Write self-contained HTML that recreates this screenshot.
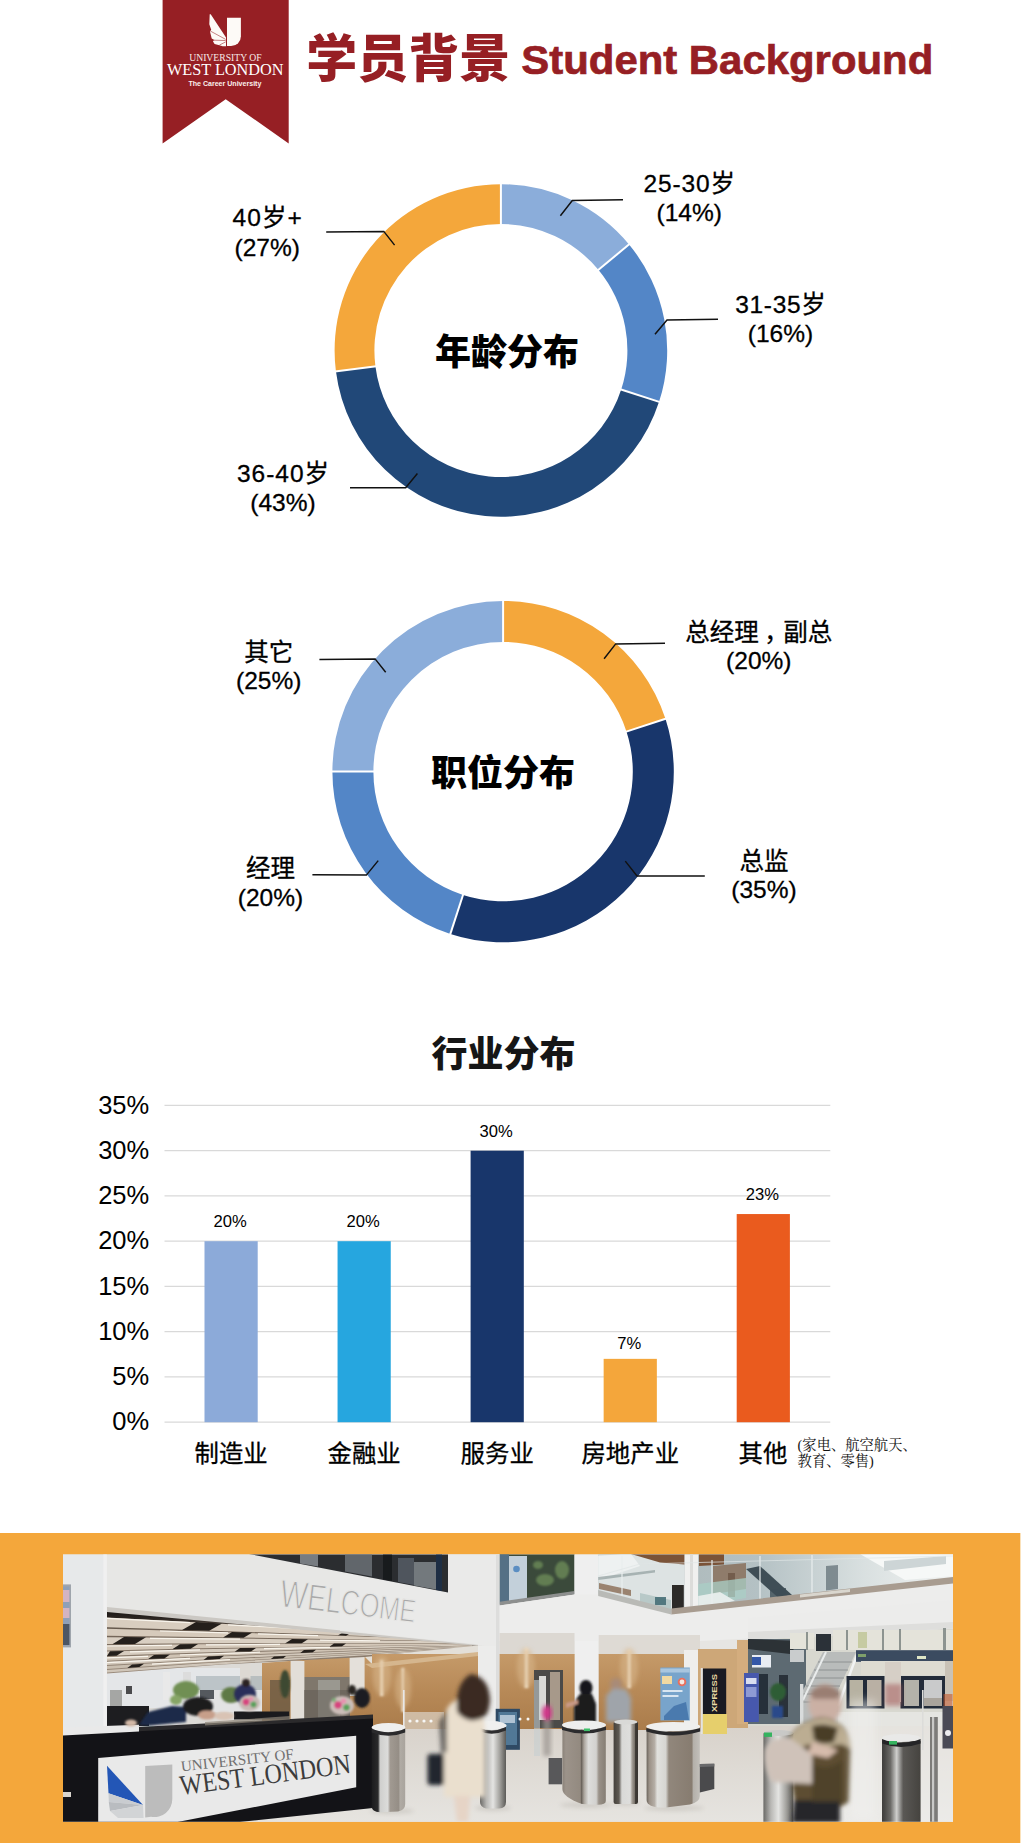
<!DOCTYPE html>
<html lang="zh-CN"><head><meta charset="utf-8"><title>学员背景 Student Background</title>
<style>html,body{margin:0;padding:0;background:#fff}body{width:1021px;height:1843px;overflow:hidden}svg{display:block}text{font-family:'Liberation Sans','Noto Sans CJK SC',sans-serif}</style></head><body>
<svg width="1021" height="1843" viewBox="0 0 1021 1843" fill="#111">
<rect width="1021" height="1843" fill="#fff"/>
<g id="header">
<path d="M162.6 0H288.7V143.4L225.7 99.2L162.6 143.4Z" fill="#961f24"/>
<!-- crest: wing + shield -->
<g fill="#fdfaf7">
<path d="M227 17.8H240.9V36.2A9.8 9.8 0 0 1 231.1 46H227Z"/>
<path d="M209.7 14.2L210.7 14.2L226 37.4V46.3H222.6L219.4 45.3L214.6 44L212.9 41.3L214.4 40.1L211.7 38.4L210 31.6L211.2 29.8L209.3 24.2Z"/>
</g>
<g stroke="#961f24" stroke-width=".55" fill="none"><path d="M210.3 31L225.7 39.4"/><path d="M214 40.2L225.7 40.5"/><path d="M219.4 45.1L225.8 41.8"/></g>
<text x="225.4" y="60.8" font-size="10" text-anchor="middle" textLength="72.4" lengthAdjust="spacingAndGlyphs" style="font-family:'Liberation Serif',serif;fill:#f6e9e6">UNIVERSITY OF</text>
<text x="225.2" y="74.5" font-size="16" text-anchor="middle" textLength="116.6" lengthAdjust="spacingAndGlyphs" style="font-family:'Liberation Serif',serif;fill:#fff">WEST LONDON</text>
<text x="224.9" y="85.8" font-size="7.4" font-weight="bold" text-anchor="middle" textLength="73" lengthAdjust="spacingAndGlyphs" style="fill:#fbefec">The Career University</text>
<!-- title -->
<text x="306.2" y="76.6" font-size="51" font-weight="900" style="fill:#961f24">学员背景</text>
<text x="521.3" y="74" font-size="41" font-weight="bold" textLength="412" lengthAdjust="spacingAndGlyphs" style="fill:#961f24;stroke:#961f24;stroke-width:.7px">Student Background</text>
</g>

<g id="age">
<path d="M500.90 184.15A166.3 166.3 0 0 1 629.04 244.45L598.37 269.82A126.5 126.5 0 0 0 500.90 223.95Z" fill="#8badda"/>
<path d="M629.04 244.45A166.3 166.3 0 0 1 659.06 401.84L621.21 389.54A126.5 126.5 0 0 0 598.37 269.82Z" fill="#5386c7"/>
<path d="M659.06 401.84A166.3 166.3 0 0 1 335.91 371.29L375.40 366.30A126.5 126.5 0 0 0 621.21 389.54Z" fill="#214878"/>
<path d="M335.91 371.29A166.3 166.3 0 0 1 500.90 184.15L500.90 223.95A126.5 126.5 0 0 0 375.40 366.30Z" fill="#f4a73b"/>
<line x1="500.90" y1="224.95" x2="500.90" y2="183.15" stroke="#fff" stroke-width="2"/>
<line x1="597.60" y1="270.45" x2="629.81" y2="243.81" stroke="#fff" stroke-width="2"/>
<line x1="620.26" y1="389.23" x2="660.01" y2="402.15" stroke="#fff" stroke-width="2"/>
<line x1="376.39" y1="366.18" x2="334.92" y2="371.42" stroke="#fff" stroke-width="2"/>
<path d="M560.4 215.8L572.3 200.6L623 199.8" fill="none" stroke="#111" stroke-width="1.5" stroke-linejoin="miter"/>
<path d="M655 334.3L667 319.9L718 319.2" fill="none" stroke="#111" stroke-width="1.5" stroke-linejoin="miter"/>
<path d="M394.6 245.1L383.8 231.4L326.2 232" fill="none" stroke="#111" stroke-width="1.5" stroke-linejoin="miter"/>
<path d="M417.4 473.5L405.7 487.7L350 487.8" fill="none" stroke="#111" stroke-width="1.5" stroke-linejoin="miter"/>
<text x="689.2" y="192.3" font-size="24.5" text-anchor="middle" textLength="91.5" fill="#000" stroke="#000" stroke-width=".3">25-30岁</text><text x="689.2" y="221.1" font-size="24.5" text-anchor="middle" fill="#000" stroke="#000" stroke-width=".3">(14%)</text>
<text x="780.5" y="312.7" font-size="24.5" text-anchor="middle" textLength="90.3" fill="#000" stroke="#000" stroke-width=".3">31-35岁</text><text x="780.5" y="341.8" font-size="24.5" text-anchor="middle" fill="#000" stroke="#000" stroke-width=".3">(16%)</text>
<text x="267.2" y="226.4" font-size="24.5" text-anchor="middle" textLength="69.2" fill="#000" stroke="#000" stroke-width=".3">40岁+</text><text x="267.2" y="255.7" font-size="24.5" text-anchor="middle" fill="#000" stroke="#000" stroke-width=".3">(27%)</text>
<text x="283" y="482" font-size="24.5" text-anchor="middle" textLength="92" fill="#000" stroke="#000" stroke-width=".3">36-40岁</text><text x="283" y="511.1" font-size="24.5" text-anchor="middle" fill="#000" stroke="#000" stroke-width=".3">(43%)</text>
<text x="507" y="365" font-size="36" font-weight="900" text-anchor="middle" fill="#000">年龄分布</text>
</g>
<g id="pos">
<path d="M503.10 600.90A170.7 170.7 0 0 1 665.45 718.85L626.45 731.52A129.7 129.7 0 0 0 503.10 641.90Z" fill="#f4a73b"/>
<path d="M665.45 718.85A170.7 170.7 0 0 1 450.35 933.95L463.02 894.95A129.7 129.7 0 0 0 626.45 731.52Z" fill="#18366b"/>
<path d="M450.35 933.95A170.7 170.7 0 0 1 332.40 771.60L373.40 771.60A129.7 129.7 0 0 0 463.02 894.95Z" fill="#5386c7"/>
<path d="M332.40 771.60A170.7 170.7 0 0 1 503.10 600.90L503.10 641.90A129.7 129.7 0 0 0 373.40 771.60Z" fill="#8badda"/>
<line x1="503.10" y1="642.90" x2="503.10" y2="599.90" stroke="#fff" stroke-width="2"/>
<line x1="625.50" y1="731.83" x2="666.40" y2="718.54" stroke="#fff" stroke-width="2"/>
<line x1="463.33" y1="894.00" x2="450.04" y2="934.90" stroke="#fff" stroke-width="2"/>
<line x1="374.40" y1="771.60" x2="331.40" y2="771.60" stroke="#fff" stroke-width="2"/>
<path d="M604.1 658.7L615.7 643.9L665 643.3" fill="none" stroke="#111" stroke-width="1.5" stroke-linejoin="miter"/>
<path d="M625.3 861.1L637 876L704.8 876" fill="none" stroke="#111" stroke-width="1.5" stroke-linejoin="miter"/>
<path d="M385.7 672.3L375.1 658.9L319.4 659.4" fill="none" stroke="#111" stroke-width="1.5" stroke-linejoin="miter"/>
<path d="M378.2 860.6L366.4 875.1L312.4 874.7" fill="none" stroke="#111" stroke-width="1.5" stroke-linejoin="miter"/>
<text x="758.8" y="640.5" font-size="24.5" text-anchor="middle" fill="#000" stroke="#000" stroke-width=".3">总经理<tspan dx="5.5">，</tspan><tspan dx="-5.5">副总</tspan></text><text x="758.8" y="668.6" font-size="24.5" text-anchor="middle" fill="#000" stroke="#000" stroke-width=".3">(20%)</text>
<text x="764" y="869.5" font-size="24.5" text-anchor="middle" fill="#000" stroke="#000" stroke-width=".3">总监</text><text x="764" y="898.2" font-size="24.5" text-anchor="middle" fill="#000" stroke="#000" stroke-width=".3">(35%)</text>
<text x="268.7" y="660.5" font-size="24.5" text-anchor="middle" fill="#000" stroke="#000" stroke-width=".3">其它</text><text x="268.7" y="688.7" font-size="24.5" text-anchor="middle" fill="#000" stroke="#000" stroke-width=".3">(25%)</text>
<text x="270.5" y="876.5" font-size="24.5" text-anchor="middle" fill="#000" stroke="#000" stroke-width=".3">经理</text><text x="270.5" y="905.7" font-size="24.5" text-anchor="middle" fill="#000" stroke="#000" stroke-width=".3">(20%)</text>
<text x="503" y="786" font-size="36" font-weight="900" text-anchor="middle" fill="#000">职位分布</text>
</g>
<g id="industry">
<text x="503.5" y="1067" font-size="36" font-weight="900" text-anchor="middle" fill="#161616">行业分布</text>
<line x1="164.5" x2="830.3" y1="1422.20" y2="1422.20" stroke="#d9d9d9" stroke-width="1.3"/>
<text x="149.2" y="1430.40" font-size="25.5" text-anchor="end" fill="#000">0%</text>
<line x1="164.5" x2="830.3" y1="1376.95" y2="1376.95" stroke="#d9d9d9" stroke-width="1.3"/>
<text x="149.2" y="1385.15" font-size="25.5" text-anchor="end" fill="#000">5%</text>
<line x1="164.5" x2="830.3" y1="1331.70" y2="1331.70" stroke="#d9d9d9" stroke-width="1.3"/>
<text x="149.2" y="1339.90" font-size="25.5" text-anchor="end" fill="#000">10%</text>
<line x1="164.5" x2="830.3" y1="1286.45" y2="1286.45" stroke="#d9d9d9" stroke-width="1.3"/>
<text x="149.2" y="1294.65" font-size="25.5" text-anchor="end" fill="#000">15%</text>
<line x1="164.5" x2="830.3" y1="1241.20" y2="1241.20" stroke="#d9d9d9" stroke-width="1.3"/>
<text x="149.2" y="1249.40" font-size="25.5" text-anchor="end" fill="#000">20%</text>
<line x1="164.5" x2="830.3" y1="1195.95" y2="1195.95" stroke="#d9d9d9" stroke-width="1.3"/>
<text x="149.2" y="1204.15" font-size="25.5" text-anchor="end" fill="#000">25%</text>
<line x1="164.5" x2="830.3" y1="1150.70" y2="1150.70" stroke="#d9d9d9" stroke-width="1.3"/>
<text x="149.2" y="1158.90" font-size="25.5" text-anchor="end" fill="#000">30%</text>
<line x1="164.5" x2="830.3" y1="1105.45" y2="1105.45" stroke="#d9d9d9" stroke-width="1.3"/>
<text x="149.2" y="1113.65" font-size="25.5" text-anchor="end" fill="#000">35%</text>
<rect x="204.50" y="1241.20" width="53.2" height="181.00" fill="#8caad9"/>
<text x="230.10" y="1227.30" font-size="16.6" text-anchor="middle" fill="#000">20%</text>
<text x="231.10" y="1462.4" font-size="24.4" text-anchor="middle" fill="#000" stroke="#000" stroke-width=".3">制造业</text>
<rect x="337.55" y="1241.20" width="53.2" height="181.00" fill="#26a6df"/>
<text x="363.15" y="1227.30" font-size="16.6" text-anchor="middle" fill="#000">20%</text>
<text x="364.15" y="1462.4" font-size="24.4" text-anchor="middle" fill="#000" stroke="#000" stroke-width=".3">金融业</text>
<rect x="470.60" y="1150.70" width="53.2" height="271.50" fill="#18366b"/>
<text x="496.20" y="1136.80" font-size="16.6" text-anchor="middle" fill="#000">30%</text>
<text x="497.20" y="1462.4" font-size="24.4" text-anchor="middle" fill="#000" stroke="#000" stroke-width=".3">服务业</text>
<rect x="603.65" y="1358.85" width="53.2" height="63.35" fill="#f4a63b"/>
<text x="629.25" y="1348.65" font-size="16.6" text-anchor="middle" fill="#000">7%</text>
<text x="630.25" y="1462.4" font-size="24.4" text-anchor="middle" fill="#000" stroke="#000" stroke-width=".3">房地产业</text>
<rect x="736.70" y="1214.05" width="53.2" height="208.15" fill="#ea5b1e"/>
<text x="762.30" y="1200.15" font-size="16.6" text-anchor="middle" fill="#000">23%</text>
<text x="763.00" y="1462.4" font-size="24.4" text-anchor="middle" fill="#000" stroke="#000" stroke-width=".3">其他</text>
<text x="797.6" y="1449.6" font-size="14.3" style="font-family:'Liberation Serif','Noto Serif CJK SC',serif">(家电、航空航天、</text>
<text x="797.6" y="1466.4" font-size="14.3" style="font-family:'Liberation Serif','Noto Serif CJK SC',serif">教育、零售)</text>
</g>
<g id="footer">
<rect x="0" y="1533" width="1020" height="310" fill="#f4a73b"/><rect x="1020" y="1533" width="1" height="310" fill="#fbe2bb"/>
<defs>
<clipPath id="pc"><rect x="63" y="1554.5" width="890" height="267.3"/></clipPath>
<filter id="b1" x="-20%" y="-20%" width="140%" height="140%"><feGaussianBlur stdDeviation="1"/></filter>
<filter id="b2" x="-20%" y="-20%" width="140%" height="140%"><feGaussianBlur stdDeviation="2.2"/></filter>
<filter id="b4" x="-30%" y="-30%" width="160%" height="160%"><feGaussianBlur stdDeviation="4"/></filter>
<linearGradient id="steelA" x1="0" x2="1" y1="0" y2="0">
<stop offset="0" stop-color="#1c1c1e"/><stop offset=".19" stop-color="#2a2a2b"/><stop offset=".25" stop-color="#cfcfcd"/><stop offset=".48" stop-color="#dcdcda"/>
<stop offset=".55" stop-color="#a19a92"/><stop offset=".8" stop-color="#958e86"/><stop offset=".85" stop-color="#b0aba4"/><stop offset="1" stop-color="#a9a49d"/>
</linearGradient>
<linearGradient id="steelB" x1="0" x2="1" y1="0" y2="0">
<stop offset="0" stop-color="#6a6966"/><stop offset=".25" stop-color="#b9b8b5"/><stop offset=".5" stop-color="#e4e4e2"/>
<stop offset=".75" stop-color="#a5a4a0"/><stop offset="1" stop-color="#5b5a57"/>
</linearGradient>
<linearGradient id="steelC" x1="0" x2="1" y1="0" y2="0">
<stop offset="0" stop-color="#8b8a86"/><stop offset=".3" stop-color="#dededc"/><stop offset=".5" stop-color="#a9a8a4"/>
<stop offset=".78" stop-color="#7f7e7a"/><stop offset=".9" stop-color="#8f8e8a"/><stop offset="1" stop-color="#c2c1be"/>
</linearGradient>
<linearGradient id="steelD" x1="0" x2="1" y1="0" y2="0">
<stop offset="0" stop-color="#3a3937"/><stop offset=".22" stop-color="#6b6a67"/><stop offset=".38" stop-color="#cfcfcd"/>
<stop offset=".55" stop-color="#5a5855"/><stop offset="1" stop-color="#45433f"/>
</linearGradient>
<linearGradient id="wood" x1="0" x2="0" y1="0" y2="1">
<stop offset="0" stop-color="#c59a69"/><stop offset=".5" stop-color="#b78957"/><stop offset="1" stop-color="#aa7c4b"/>
</linearGradient>
<linearGradient id="floor" x1="0" x2="0" y1="0" y2="1">
<stop offset="0" stop-color="#d6cfc7"/><stop offset=".5" stop-color="#deDAD4"/><stop offset="1" stop-color="#e6e4e0"/>
</linearGradient>
<linearGradient id="glass" x1="0" x2="1" y1="0" y2="0">
<stop offset="0" stop-color="#a9b4b4"/><stop offset=".45" stop-color="#b4c1c4"/><stop offset=".75" stop-color="#d9e0e0"/><stop offset="1" stop-color="#f1f3f2"/>
</linearGradient>
<linearGradient id="steelT3" x1="0" x2="1" y1="0" y2="0">
<stop offset="0" stop-color="#8a8279"/><stop offset=".08" stop-color="#9c938a"/><stop offset=".41" stop-color="#938a80"/><stop offset=".44" stop-color="#6b645c"/><stop offset=".5" stop-color="#aaa49c"/>
<stop offset=".6" stop-color="#dddddb"/><stop offset=".78" stop-color="#d2d1ce"/><stop offset=".84" stop-color="#999188"/><stop offset="1" stop-color="#867e74"/>
</linearGradient>
<linearGradient id="steelTC" x1="0" x2="1" y1="0" y2="0">
<stop offset="0" stop-color="#6a635b"/><stop offset=".05" stop-color="#9a9086"/><stop offset=".15" stop-color="#b5aea6"/><stop offset=".2" stop-color="#e1e1de"/><stop offset=".36" stop-color="#d6d5d1"/>
<stop offset=".42" stop-color="#91877c"/><stop offset=".85" stop-color="#877c70"/><stop offset=".88" stop-color="#b4b0aa"/><stop offset="1" stop-color="#c2bfba"/>
</linearGradient>
<linearGradient id="steelP" x1="0" x2="1" y1="0" y2="0">
<stop offset="0" stop-color="#45413b"/><stop offset=".22" stop-color="#5f5a53"/><stop offset=".34" stop-color="#d9d9d7"/><stop offset=".68" stop-color="#dededc"/>
<stop offset=".76" stop-color="#a39d95"/><stop offset=".86" stop-color="#7a746c"/><stop offset=".9" stop-color="#3c3833"/><stop offset="1" stop-color="#3a3632"/>
</linearGradient>
</defs>
<g id="photo" clip-path="url(#pc)">
<rect x="63" y="1554" width="890" height="268" fill="#e6e5e2"/>
<!-- floor -->
<rect x="63" y="1712" width="890" height="110" fill="url(#floor)"/>
<!-- ===== left: back office under ceiling ===== -->
<rect x="107" y="1640" width="265" height="92" fill="#dcdad6"/>
<rect x="107" y="1668" width="135" height="40" fill="#e4e6e8"/>
<rect x="196" y="1676" width="90" height="14" fill="#9aa7ad" opacity=".55"/>
<rect x="200" y="1690" width="88" height="22" fill="#e3e3e3"/>
<!-- wood wall behind desk (right part of left area) -->
<path d="M262 1663L372 1655V1722H262Z" fill="url(#wood)"/>
<rect x="304" y="1677" width="46" height="45" fill="#7f776c"/>
<rect x="318" y="1680" width="22" height="40" fill="#9a9890"/>
<rect x="270" y="1680" width="20" height="40" fill="#6b5a44" opacity=".8"/>
<!-- columns -->
<rect x="240" y="1664" width="10.5" height="27" fill="#ddd9d3"/>
<rect x="290.6" y="1661" width="13.8" height="60" fill="#e2ded8"/>
<rect x="349.6" y="1656" width="15" height="40" fill="#e4e0da"/>
<rect x="163" y="1672" width="7" height="28" fill="#e9e9e9"/>
<rect x="183" y="1672" width="8" height="30" fill="#dcdcdc"/>
<!-- plants -->
<g filter="url(#b1)">
<ellipse cx="186" cy="1690" rx="13" ry="9" fill="#6f8f52"/>
<ellipse cx="231" cy="1695" rx="10" ry="8" fill="#5f7a44"/>
<ellipse cx="176" cy="1700" rx="6" ry="5" fill="#86a566"/>
<ellipse cx="285" cy="1684" rx="5" ry="14" fill="#3e4a30"/>
</g>
<!-- dark furniture / monitors in the back -->
<rect x="107" y="1706" width="42" height="20" fill="#1d1d20"/>
<rect x="126" y="1686" width="6" height="8" fill="#4a4a4c"/>
<rect x="200" y="1690" width="14" height="9" fill="#55595e"/>
<rect x="110" y="1690" width="12" height="16" fill="#8a8a88" opacity=".7"/>
<rect x="234" y="1711.5" width="55" height="8" fill="#1a1a1d"/>
<g filter="url(#b1)"><ellipse cx="245" cy="1694" rx="11" ry="10" fill="#2a2f5a"/><ellipse cx="246" cy="1683" rx="4" ry="4" fill="#2a2420"/></g>
<rect x="304" y="1690" width="46" height="32" fill="#5d574f" opacity=".5"/>
<!-- ===== ceiling ===== -->
<linearGradient id="ceilg" x1="0" x2="0" y1="1612" y2="1672" gradientUnits="userSpaceOnUse"><stop offset="0" stop-color="#1d1916"/><stop offset=".1" stop-color="#2a2420"/><stop offset=".3" stop-color="#6e6053"/><stop offset="1" stop-color="#9a8b7c"/></linearGradient>
<path d="M107 1608L478 1644.6V1649L365 1657L222 1664.5L107 1673.5Z" fill="url(#ceilg)"/>
<path d="M107.0 1617.5L200.0 1622.6L300.0 1628.2L400.0 1633.9L472.0 1637.9L472.0 1639.8L400.0 1637.3L300.0 1633.7L200.0 1630.2L107.0 1627.2Z" fill="#d8cdbf"/>
<path d="M196.0 1622.1L222.0 1623.5L209.2 1630.8L182.1 1630.0Z" fill="#241f1b"/>
<path d="M346.0 1630.5L354.0 1631.0L346.1 1635.7L337.8 1635.4Z" fill="#241f1b"/>
<path d="M107.0 1628.7L200.0 1631.4L300.0 1634.6L400.0 1637.8L472.0 1640.1L472.0 1641.5L400.0 1640.3L300.0 1638.5L200.0 1636.9L107.0 1635.7Z" fill="#d6cabb"/>
<path d="M232.0 1632.1L252.0 1632.7L243.6 1637.8L223.1 1637.5Z" fill="#241f1b"/>
<path d="M107.0 1637.3L200.0 1638.1L300.0 1639.4L400.0 1640.8L472.0 1641.8L472.0 1643.1L400.0 1643.1L300.0 1643.2L200.0 1643.3L107.0 1644.0Z" fill="#d9cfc2"/>
<path d="M124.0 1637.1L146.0 1637.3L135.0 1644.1L112.4 1644.2Z" fill="#241f1b"/>
<path d="M292.0 1639.0L308.0 1639.2L301.4 1643.5L285.0 1643.5Z" fill="#241f1b"/>
<path d="M107.0 1645.2L200.0 1644.3L300.0 1643.8L400.0 1643.6L472.0 1643.4L472.0 1644.4L400.0 1645.4L300.0 1646.8L200.0 1648.3L107.0 1650.4Z" fill="#d3c7b8"/>
<path d="M180.0 1644.2L198.0 1644.0L190.7 1648.8L172.3 1649.2Z" fill="#241f1b"/>
<path d="M334.0 1643.4L346.0 1643.4L341.7 1646.5L329.4 1646.7Z" fill="#241f1b"/>
<path d="M107.0 1651.6L200.0 1649.3L300.0 1647.4L400.0 1645.8L472.0 1644.6L472.0 1645.5L400.0 1647.3L300.0 1649.8L200.0 1652.6L107.0 1655.8Z" fill="#d6ccbf"/>
<path d="M110.0 1651.2L124.0 1650.9L116.6 1655.8L107.0 1656.1Z" fill="#241f1b"/>
<path d="M240.0 1648.1L256.0 1647.9L251.0 1651.4L234.7 1651.8Z" fill="#241f1b"/>
<path d="M107.0 1657.1L200.0 1653.6L300.0 1650.5L400.0 1647.7L472.0 1645.7L472.0 1646.4L400.0 1649.0L300.0 1652.6L200.0 1656.4L107.0 1660.7Z" fill="#cfc3b4"/>
<path d="M154.0 1655.0L170.0 1654.4L164.4 1658.4L148.1 1659.1Z" fill="#241f1b"/>
<path d="M304.0 1650.1L316.0 1649.8L312.5 1652.4L300.3 1652.9Z" fill="#241f1b"/>
<path d="M107.0 1661.8L200.0 1657.2L300.0 1653.2L400.0 1649.4L472.0 1646.6L472.0 1647.3L400.0 1650.5L300.0 1655.0L200.0 1659.8L107.0 1665.0Z" fill="#d2c8bb"/>
<path d="M208.0 1656.5L224.0 1655.8L219.7 1659.0L203.5 1659.9Z" fill="#241f1b"/>
<path d="M107.0 1666.1L200.0 1660.6L300.0 1655.6L400.0 1650.9L472.0 1647.5L472.0 1648.0L400.0 1651.9L300.0 1657.2L200.0 1662.8L107.0 1668.9Z" fill="#cabfb0"/>
<path d="M132.0 1664.4L144.0 1663.7L139.4 1667.1L127.3 1667.9Z" fill="#241f1b"/>
<path d="M274.0 1656.6L286.0 1656.0L283.0 1658.4L270.9 1659.1Z" fill="#241f1b"/>
<path d="M107.0 1669.9L200.0 1663.5L300.0 1657.7L400.0 1652.2L472.0 1648.2L472.0 1648.8L400.0 1653.2L300.0 1659.3L200.0 1665.7L107.0 1672.6Z" fill="#d0c6b9"/>
<path d="M107 1618.3L190 1622.7" stroke="#f8f4ec" stroke-width="1.2"/>
<path d="M228 1624.8L300 1628.7" stroke="#f8f4ec" stroke-width="1.2"/>
<path d="M160 1631.0L228 1632.9" stroke="#f8f4ec" stroke-width="1.2"/>
<path d="M258 1633.8L318 1635.6" stroke="#f8f4ec" stroke-width="1.2"/>
<path d="M150 1638.4L240 1639.1" stroke="#f8f4ec" stroke-width="1.2"/>
<path d="M206 1644.9L280 1644.4" stroke="#f8f4ec" stroke-width="1.2"/>
<path d="M107 1646.0L172 1645.3" stroke="#f8f4ec" stroke-width="1.2"/>
<path d="M130 1651.8L200 1649.9" stroke="#f8f4ec" stroke-width="1.2"/>
<path d="M264 1648.6L330 1647.4" stroke="#f8f4ec" stroke-width="1.2"/>
<path d="M107 1657.9L148 1656.3" stroke="#f8f4ec" stroke-width="1.2"/>
<path d="M180 1655.0L260 1652.2" stroke="#f8f4ec" stroke-width="1.2"/>
<path d="M107 1662.6L190 1658.4" stroke="#f8f4ec" stroke-width="1.2"/>
<path d="M152 1664.2L230 1659.6" stroke="#f8f4ec" stroke-width="1.2"/>
<path d="M320 1640.1L380 1640.8" stroke="#f8f4ec" stroke-width="1.2"/>
<path d="M360 1632.0L420 1635.3" stroke="#f8f4ec" stroke-width="1.2"/>

<!-- soffit strip between ceiling and wood wall -->
<path d="M365 1657L478 1645.5V1652L372 1664Z" fill="#e3dfd8"/>
<!-- ===== white walls ===== -->
<rect x="63" y="1554" width="44" height="176" fill="#e7e9ea"/>
<rect x="103.4" y="1554" width="3.4" height="176" fill="#f0f0f0"/>
<path d="M107 1554H500V1648L478 1645L107 1607.8Z" fill="#e7e7e5"/>
<path d="M107 1607L478 1644.2V1646L107 1612Z" fill="#cbc8c3"/>
<path d="M340 1554H500V1648L478 1645L340 1631Z" fill="#ebebea" opacity=".8"/>
<!-- TV on left pillar -->
<rect x="63" y="1584.4" width="8" height="63" fill="#9fa5ac"/>
<rect x="63" y="1586.5" width="6.4" height="59" fill="#8fa0b8"/><rect x="63" y="1624" width="6.4" height="21" fill="#4c5664"/>
<rect x="63" y="1590" width="6.4" height="12" fill="#d3b4c2"/><rect x="63" y="1608" width="6.4" height="10" fill="#d3b4c2"/>
<!-- dark window (top, left) -->
<path d="M249 1554H448V1592.6Z" fill="#2b2d30"/>
<g opacity=".8">
<path d="M300 1554H318V1566.5L300 1563.5Z" fill="#8b9096"/>
<path d="M345 1554H372V1576.6L345 1571.6Z" fill="#70757b"/>
<path d="M383 1554H392V1581L383 1579.6Z" fill="#15171a"/>
<path d="M398 1558H414V1585L398 1582Z" fill="#596069"/>
<path d="M414 1562H436V1589.5L414 1585.5Z" fill="#868d92"/>
<path d="M436 1554H442V1591L436 1590Z" fill="#1c2f4a"/>
</g>
<!-- WELCOME -->
<text transform="translate(278.8 1606.3) rotate(6.8)" font-size="39" textLength="136.5" lengthAdjust="spacingAndGlyphs" fill="#a9a9a9" stroke="#e7e7e5" stroke-width="1.1" paint-order="fill stroke">W<tspan font-size="37.5">E</tspan><tspan font-size="36">L</tspan><tspan font-size="35">C</tspan><tspan font-size="34">O</tspan><tspan font-size="33">M</tspan><tspan font-size="32">E</tspan></text>
<!-- ===== centre wall, second window ===== -->
<path d="M499.6 1554H574.5V1594L499.6 1604.6Z" fill="#3b4a3b"/>
<path d="M499.6 1554H509V1603L499.6 1604.6Z" fill="#557085"/>
<path d="M509 1556H527V1600.5L509 1603Z" fill="#c3d0da"/>
<circle cx="516.5" cy="1569" r="3.3" fill="#5b8ec2"/>
<g fill="#6f8f5a" opacity=".75" filter="url(#b1)"><ellipse cx="545" cy="1580" rx="9" ry="6"/><ellipse cx="562" cy="1570" rx="7" ry="9"/><ellipse cx="538" cy="1565" rx="5" ry="4"/></g>
<path d="M499.6 1601.8L574.5 1591V1594.6L499.6 1605.4Z" fill="#8d8f8e"/>
<rect x="574.5" y="1554" width="24.2" height="172" fill="#efefef"/>
<rect x="478" y="1646" width="22" height="76" fill="#ececeb"/>
<rect x="496" y="1554" width="3.6" height="168" fill="#dddddc"/>
<!-- white wall right of window / under balcony -->
<path d="M499.6 1605.4L574.5 1594.6H640L672 1613L953 1582V1628L700 1641H499.6Z" fill="#ededec"/>
<!-- ===== balcony glass ===== -->
<path d="M598.2 1554H953V1580L671.3 1611.6L598.2 1594.2Z" fill="url(#glass)"/>
<path d="M598.2 1554H684.6V1608.5L671.3 1612.7L598.2 1594.2Z" fill="#dde3e3"/>
<path d="M598.2 1556L622 1554H631L640 1566L598.2 1580Z" fill="#eef1f1"/>
<path d="M631 1554H684.6V1564.4L660 1562.5Z" fill="#7a5338"/>
<path d="M599 1583L631 1590V1596L599 1589Z" fill="#8a6a52" opacity=".8"/>
<path d="M598.2 1577L655 1570V1572.5L598.2 1580Z" fill="#9aa6a6" opacity=".8"/>
<path d="M640 1593L671 1600V1611L640 1603Z" fill="#b8c9c8"/>
<rect x="655" y="1597" width="11" height="8" fill="#3f6a72" opacity=".85"/>
<rect x="672" y="1585" width="11.8" height="24" fill="#2c2a28"/>
<rect x="684.6" y="1554" width="13.6" height="58" fill="#f0f0ef"/>
<rect x="690" y="1554" width="3" height="58" fill="#dcdcda"/>
<path d="M699 1554H724V1564.4L699 1566Z" fill="#7a5338"/>
<path d="M713 1566L746 1563V1589L713 1594Z" fill="#8f7c6b"/>
<rect x="728" y="1573" width="7" height="24" fill="#6b5545" opacity=".8"/>
<path d="M698.2 1584L746 1578V1598L698.2 1606Z" fill="#a9cfc5" opacity=".75"/>
<path d="M698.2 1596L720 1592L735 1601L698.2 1607Z" fill="#eef2f1" opacity=".85"/>
<path d="M746 1569L760 1566L792 1595L778 1597.5Z" fill="#3f4e56"/>
<path d="M770 1590L786 1588V1597L770 1599Z" fill="#3f4e56" opacity=".8"/>
<path d="M826 1566L838 1565V1589L826 1590.5Z" fill="#5c6b72" opacity=".7"/>
<path d="M860 1554H953V1576L905 1580Z" fill="#f6f8f7"/>
<path d="M884 1561L946 1556V1564L884 1571Z" fill="#cdd5d6"/>
<g stroke="#e9efef" stroke-width="1.2"><path d="M712 1560V1606"/><path d="M760 1556V1600"/><path d="M812 1555V1595"/><path d="M622 1556V1600"/></g>
<path d="M598.2 1576L640 1564L953 1556" stroke="#dfe6e6" stroke-width="1" fill="none" opacity=".7"/>
<!-- balcony edge rail -->
<path d="M671.3 1608.5L953 1577V1583.4L671.3 1614.6Z" fill="#a89c90"/>
<path d="M800 1594.6L850 1589V1592L800 1597.6Z" fill="#d9d6ce"/>
<path d="M598.2 1590L671.3 1609V1614.6L598.2 1596Z" fill="#b9bab6"/>
<!-- ===== soffits + wood wall (centre) ===== -->
<path d="M499.6 1633H574.5V1655H499.6Z" fill="#dcd8d2"/>
<path d="M598.7 1635H700V1655H598.7Z" fill="#dedad4"/>
<rect x="372" y="1654" width="106" height="75" fill="url(#wood)"/>
<path d="M365 1664L478 1652V1656L372 1668Z" fill="#d5b68e"/>
<rect x="499.6" y="1654" width="75" height="75" fill="url(#wood)"/>
<rect x="598.7" y="1654" width="86" height="76" fill="url(#wood)"/>
<rect x="698" y="1649" width="50" height="79" fill="#cda778"/>
<rect x="684" y="1650" width="14" height="76" fill="#efeeec"/>
<rect x="737" y="1640" width="11" height="84" fill="#d4ad7e"/>
<g fill="#f3e6d2" filter="url(#b1)">
<rect x="380" y="1660" width="3.4" height="36"/><rect x="401.5" y="1668" width="2.6" height="44"/><rect x="524.6" y="1648" width="3.6" height="40"/><rect x="627.5" y="1650" width="3.4" height="38"/>
</g>
<g fill="#d9b88d" opacity=".55" filter="url(#b2)"><ellipse cx="382" cy="1676" rx="9" ry="20"/><ellipse cx="403" cy="1688" rx="8" ry="20"/><ellipse cx="526" cy="1668" rx="9" ry="20"/><ellipse cx="629" cy="1668" rx="9" ry="20"/></g>
<!-- door in wood wall -->
<rect x="534" y="1670" width="29" height="58" fill="#4b4a48"/>
<rect x="539" y="1676" width="7" height="44" fill="#d9d9d6"/>
<rect x="550" y="1672" width="10" height="48" fill="#a7998a"/>
<!-- ===== right: atrium, stairs, windows ===== -->
<rect x="748" y="1628" width="205" height="98" fill="#d8d8d0"/>
<path d="M748 1640L953 1628.5V1600L748 1618Z" fill="#ececeb"/><path d="M748 1640L953 1628.5V1622L748 1632Z" fill="#dededc"/>
<path d="M748 1639H806V1724H748Z" fill="#5d6a72"/>
<path d="M748 1639L800 1641L790 1654L748 1649Z" fill="#2c3236"/>
<rect x="752" y="1655" width="19" height="12.5" fill="#e8ecf2"/>
<rect x="752" y="1657" width="9" height="8" fill="#3458a8"/>
<rect x="790" y="1650" width="14" height="12" fill="#c9cccd"/>
<rect x="816" y="1634" width="15" height="17" fill="#2b3138"/>
<g fill="#e4e3da"><rect x="790" y="1633" width="24" height="16"/><rect x="833" y="1630" width="120" height="20"/></g>
<g fill="#8d9490"><rect x="806" y="1632" width="2" height="18"/><rect x="846" y="1630" width="2" height="20"/><rect x="882" y="1629" width="2" height="21"/><rect x="899" y="1629" width="2" height="21"/><rect x="943" y="1628" width="3" height="22"/></g>
<rect x="858" y="1632" width="9" height="16" fill="#b9c08a" opacity=".7"/>
<!-- stairs -->
<path d="M803 1724V1690L823 1652H856L838 1690V1724Z" fill="#b9bcbb"/>
<g stroke="#8e9292" stroke-width="1"><path d="M818 1662H852"/><path d="M814 1670H848"/><path d="M810 1678H844"/><path d="M806 1686H840"/><path d="M803 1694H838"/><path d="M803 1702H838"/></g>
<path d="M803 1700L826 1652" stroke="#e9ecec" stroke-width="2" fill="none"/>
<path d="M838 1706L858 1652" stroke="#f1f3f3" stroke-width="2.4" fill="none"/>
<rect x="800" y="1684" width="3.4" height="40" fill="#d9dcdc"/>
<!-- dark beam + lower windows -->
<rect x="856" y="1650.2" width="97" height="11.6" fill="#3b4b60"/>
<rect x="917" y="1656" width="9" height="3" fill="#dfe6c6"/>
<rect x="858" y="1654" width="8" height="3" fill="#7fa06b"/>
<rect x="846.5" y="1676" width="38" height="32.5" fill="#212a38"/>
<rect x="849.5" y="1680" width="13.5" height="26" fill="#b7b2a2"/><rect x="867" y="1680" width="14.5" height="26" fill="#b9b0a4"/>
<rect x="900.5" y="1676" width="44.5" height="32.5" fill="#232c3a"/>
<rect x="904" y="1680" width="15" height="26" fill="#b4b2aa"/><rect x="924" y="1680" width="18" height="18" fill="#c9cacb"/><rect x="924" y="1698" width="18" height="8" fill="#a9a49c"/>
<rect x="861" y="1661" width="92" height="14" fill="#dedcd2"/>
<rect x="885" y="1662" width="16" height="40" fill="#d6cfc6"/>
<rect x="945" y="1661" width="8" height="40" fill="#c9c2b6"/>
<rect x="885" y="1684" width="17" height="22" fill="#a45c5c" opacity=".55" filter="url(#b2)"/>
<!-- floor brightening on the right -->
<rect x="820" y="1712" width="133" height="110" fill="#f1f1ef" opacity=".55"/>

<!-- banners -->
<rect x="660.4" y="1667.5" width="29.4" height="53" fill="#78a4cb"/>
<rect x="662" y="1676" width="10" height="8" fill="#f1d9a2"/><circle cx="682" cy="1682" r="4.3" fill="#e9705e"/><circle cx="682" cy="1682" r="2.4" fill="#f6e9e2"/>
<rect x="662.5" y="1690" width="20" height="2" fill="#d9e6f1"/><rect x="662.5" y="1695" width="16" height="2" fill="#d9e6f1"/>
<path d="M664 1716L674 1706L686 1702L689 1720H664Z" fill="#3f6fa6" opacity=".8"/>
<rect x="660.4" y="1668.5" width="29.4" height="4" fill="#a9c6df"/>
<rect x="702.6" y="1668.5" width="23.6" height="46" fill="#191a22"/>
<text transform="translate(717 1712) rotate(-90)" font-size="7.5" font-weight="bold" textLength="38" lengthAdjust="spacingAndGlyphs" style="fill:#e8d9a4">XPRESS</text>
<rect x="702" y="1714" width="25" height="20" fill="#e6cf6c"/>
<rect x="700.8" y="1668" width="2" height="66" fill="#e3e3e3"/>
<rect x="744" y="1673" width="14.8" height="49" fill="#4758ad"/>
<rect x="746" y="1678" width="10.5" height="6" fill="#d9def0"/><rect x="746" y="1687" width="10.5" height="10" fill="#8e9ad4"/>
<rect x="759" y="1674" width="9" height="40" fill="#26303a"/>
<rect x="779" y="1675" width="9" height="42" fill="#2a323a"/>
<g filter="url(#b1)"><ellipse cx="778" cy="1692" rx="8" ry="9" fill="#2f5d34"/><rect x="772" y="1706" width="11" height="12" fill="#2b4a8a"/></g>
<!-- blue sign board near centre column -->
<rect x="495.7" y="1708.8" width="24.2" height="41" fill="#2f4a64"/>
<rect x="498.5" y="1712" width="18.5" height="33" fill="#517896"/>
<rect x="500" y="1715" width="15" height="8" fill="#c8d6e2" opacity=".8"/>
<!-- glass gate door & pink blurred person -->
<rect x="534" y="1680" width="6" height="76" fill="#c6cfd0" opacity=".6"/>
<g filter="url(#b2)">
<ellipse cx="547" cy="1713" rx="5" ry="8" fill="#d0398a"/>
<rect x="543" y="1720" width="8" height="36" fill="#9a948e" opacity=".7"/>
</g>
<!-- woman in black, man in grey (background) -->
<g filter="url(#b1)">
<ellipse cx="586" cy="1688" rx="6.5" ry="8" fill="#17171a"/>
<path d="M574 1722V1702L580 1694H592L596 1704V1722Z" fill="#1b1b1e"/>
<path d="M566 1703L578 1700V1704L566 1708Z" fill="#c99a86"/>
</g>
<g filter="url(#b2)">
<ellipse cx="616" cy="1684" rx="6" ry="6" fill="#a88b78"/>
<path d="M606 1722V1696L612 1689H626L631 1698V1722Z" fill="#9fa4aa"/>
</g>
<!-- glass barriers with white dots -->
<rect x="404" y="1712" width="40" height="17" fill="#e9ebea" opacity=".55"/>
<g fill="#f7f7f6"><circle cx="410" cy="1721" r="1.6"/><circle cx="417" cy="1721" r="1.6"/><circle cx="424" cy="1721" r="1.6"/><circle cx="431" cy="1721" r="1.6"/><circle cx="520" cy="1719" r="1.5"/><circle cx="528" cy="1719" r="1.5"/></g>
<rect x="403" y="1690" width="1.6" height="40" fill="#e8e8e8"/>
<!-- right edge sign + pole -->
<rect x="942.5" y="1706" width="10.5" height="42.5" fill="#4a4a55"/>
<circle cx="948" cy="1733" r="3" fill="#ecebee"/>
<rect x="943.5" y="1694" width="9" height="12" fill="#c55a2e" opacity=".6"/>

<!-- ===== reception desk ===== -->
<path d="M63 1734.4L373 1716.6V1808L240 1822H63Z" fill="#131317"/>
<path d="M63 1727.5L139 1724.8V1731.5L63 1735.6Z" fill="#e9e9e9"/>
<path d="M139 1727L373 1714.6V1718.4L139 1731.2Z" fill="#2b2a2c"/>
<path d="M205 1722L290 1716V1719.6L205 1725.4Z" fill="#8d8578" opacity=".7"/>
<path d="M63 1792H71V1797H63Z" fill="#d8d4cc"/>
<!-- person leaning on desk -->
<g filter="url(#b1)">
<path d="M139 1725L148 1712L172 1706L186 1707V1722L150 1725.5Z" fill="#1c2a4a"/>
<ellipse cx="198" cy="1706.5" rx="15" ry="9.5" fill="#1b1a1d"/>
<ellipse cx="207" cy="1715" rx="9" ry="4.6" fill="#c79f8a"/>
<ellipse cx="224" cy="1716" rx="10" ry="4" fill="#d9c3b4"/>
<ellipse cx="131" cy="1723" rx="6" ry="3.4" fill="#d2b8a6"/>
</g>
<!-- flower bowls -->
<g filter="url(#b1)">
<ellipse cx="249.5" cy="1703" rx="10.5" ry="8.2" fill="#c7b9b4"/><circle cx="246" cy="1702" r="3.4" fill="#d6457f"/><circle cx="253.5" cy="1704.5" r="3" fill="#5aa05a"/><circle cx="251" cy="1699" r="2.2" fill="#e98fb0"/>
<ellipse cx="342" cy="1705.5" rx="12" ry="9.5" fill="#cbbdb8"/><circle cx="338" cy="1705" r="3.8" fill="#d6457f"/><circle cx="346.5" cy="1707.5" r="3.3" fill="#5aa05a"/><circle cx="343.5" cy="1701" r="2.6" fill="#e98fb0"/><circle cx="334" cy="1700" r="2.2" fill="#7fb07a"/>
</g>
<!-- dark figure behind desk right -->
<g filter="url(#b1)"><ellipse cx="362" cy="1698" rx="8" ry="10" fill="#1f1d20"/><ellipse cx="352" cy="1690" rx="4" ry="5" fill="#2a2624"/></g>
<!-- white sign on the desk -->
<path d="M98.2 1757.9L356.2 1735.8V1787.3L177.5 1822H98.2Z" fill="#e9e9e9"/>
<path d="M107 1765.8L143 1805L108.5 1793.2Z" fill="#2356b6"/>
<path d="M108.5 1793.2L143 1805L108.8 1802Z" fill="#c9ccd0"/>
<path d="M108.8 1802L143 1805L110 1811Z" fill="#b9bcc0"/>
<path d="M110 1811L143 1805L143.6 1818L118 1818Z" fill="#d2d4d6"/>
<path d="M145.2 1766L172.3 1764.4V1799A18 18 0 0 1 151 1816.8L145.2 1817.5Z" fill="#bcbcbc"/>
<text transform="translate(181.4 1771.4) rotate(-6.4)" font-size="15" textLength="113.5" lengthAdjust="spacingAndGlyphs" style="font-family:'Liberation Serif',serif;fill:#707070">UNIVERSITY OF</text>
<text transform="translate(181 1795) rotate(-7.4)" font-size="28" textLength="172" lengthAdjust="spacingAndGlyphs" style="font-family:'Liberation Serif',serif;fill:#3c3c3c">WEST LONDON</text>
<!-- floor shadows under turnstiles -->
<g fill="#b9b5ae" opacity=".45" filter="url(#b2)"><ellipse cx="392" cy="1811" rx="22" ry="3"/><ellipse cx="493" cy="1808" rx="18" ry="3"/><ellipse cx="586" cy="1805" rx="26" ry="3"/><ellipse cx="626" cy="1803" rx="14" ry="2.6"/><ellipse cx="674" cy="1808" rx="30" ry="3"/></g>
<!-- ===== turnstiles ===== -->
<g>
<path d="M371.7 1730H405.2V1804Q405.2 1810 398 1811.5L380 1812.2Q371.7 1812 371.7 1806Z" fill="url(#steelA)"/>
<ellipse cx="388.5" cy="1727.5" rx="16.8" ry="4.6" fill="#efefee"/>
<path d="M371.7 1728.5Q388.5 1736 405.2 1728.5V1732.5Q388.5 1739 371.7 1732.5Z" fill="#2a2a2c"/>
</g>
<g>
<path d="M480 1728H506V1802Q506 1808 499 1808.6L486 1808.4Q480 1807 480 1802Z" fill="url(#steelB)"/>
<ellipse cx="491.5" cy="1725.5" rx="15" ry="4.4" fill="#f0f0ef"/>
<path d="M477 1727Q491.5 1734 506 1727V1730.6Q491.5 1737 478 1730.6Z" fill="#2d2d2f"/>
</g>
<rect x="548.6" y="1758" width="13.6" height="26.3" fill="#58585a"/>
<g>
<path d="M562.4 1727H605.8V1801Q605.8 1805 597 1804.8L582 1804Q562.4 1797 562.4 1789Z" fill="url(#steelT3)"/>
<ellipse cx="584" cy="1725" rx="22" ry="4.6" fill="#eeeeed"/>
<path d="M562 1726.5Q584 1734 606 1726.5V1730Q584 1737 562 1730Z" fill="#2b2b2d"/>
<rect x="584" y="1728.5" width="6" height="2.6" fill="#3fbf6a"/>
</g>
<g>
<rect x="613.6" y="1721.5" width="24.4" height="82.4" rx="2" fill="url(#steelP)"/>
<ellipse cx="625.7" cy="1722" rx="11.7" ry="2.6" fill="#d9d9d7"/>
</g>
<g>
<path d="M646.6 1729H699.8V1796Q699.8 1802 690 1804.6L664 1807.8Q646.6 1807.5 646.6 1800Z" fill="url(#steelTC)"/>
<ellipse cx="673.2" cy="1726.5" rx="27" ry="4.6" fill="#efefee"/>
<path d="M646.3 1728Q673 1736 700.2 1728V1731.6Q673 1739.6 646.3 1731.6Z" fill="#2a2a2c"/>
</g>
<path d="M699.8 1764L714.3 1763.7V1789L699.8 1792.5Z" fill="#4a4a4c"/>
<path d="M699.8 1764L714.3 1763.7V1766.5L699.8 1767Z" fill="#6a6a6c"/>
<!-- ===== woman in cream coat ===== -->
<g filter="url(#b2)">
<rect x="427.5" y="1754" width="17.5" height="31" rx="3" fill="#23262f"/>
<path d="M444 1797V1718Q447 1701 461 1699L478 1701Q486 1714 485 1742V1797Z" fill="#eadfce"/>
<path d="M454 1796H470L468 1822H457Z" fill="#e6d4c6"/>
<path d="M457 1712Q455 1682 471 1674Q489 1677 490 1700Q489 1717 480 1719Q467 1724 457 1712Z" fill="#3a2a22"/>
<path d="M439 1722L447 1710V1752L441 1754Z" fill="#3c3a3a" opacity=".7"/>
</g>
<!-- ===== turnstiles right ===== -->
<g>
<rect x="763.4" y="1733" width="30" height="90" fill="url(#steelB)"/>
<ellipse cx="778.4" cy="1733" rx="15" ry="3" fill="#c9c9c7"/>
<rect x="764" y="1732.5" width="8" height="4.4" fill="#35b35f"/>
</g>
<g>
<rect x="882" y="1741" width="38.6" height="82" fill="url(#steelD)"/>
<ellipse cx="901.3" cy="1738" rx="19.3" ry="4" fill="#e9e9e8"/>
<path d="M882 1739Q901 1746.5 920.6 1739V1743.6Q901 1750.6 882 1743.6Z" fill="#252527"/>
<rect x="889" y="1741" width="8" height="3.6" fill="#35b35f"/>
</g>
<rect x="930" y="1717" width="7.8" height="106" fill="#7c7b78"/><rect x="932" y="1717" width="2.2" height="106" fill="#c9c9c7"/>
<rect x="922" y="1690" width="1.6" height="60" fill="#dcdcda"/>
<!-- ===== man (blurred, foreground) ===== -->
<g filter="url(#b2)">
<ellipse cx="825" cy="1704" rx="16.5" ry="20" fill="#cbb0a4"/>
<path d="M810 1692Q824 1679 841 1692L838 1699H813Z" fill="#8a6e62" opacity=".75"/>
<path d="M786 1746Q792 1722 822 1717Q848 1720 851 1746L849 1802Q830 1815 796 1810Z" fill="#5d4e30"/>
<path d="M784 1748Q796 1720 824 1718Q848 1722 852 1750Q842 1740 828 1748Q808 1736 788 1758Z" fill="#bcad92"/>
<path d="M812 1726Q824 1722 838 1728L834 1742Q822 1746 814 1740Z" fill="#4a3e28"/>
<path d="M765 1750Q770 1736 790 1738L812 1754V1784L772 1782Q763 1768 765 1750Z" fill="#cfc2b9"/>
<path d="M812 1742L838 1750L828 1758L808 1754Z" fill="#d6bbac"/>
<path d="M794 1800H840V1823H792Z" fill="#25252b"/>
<path d="M812 1764Q828 1772 842 1760V1802H812Z" fill="#4e4128" opacity=".8"/>
</g>
<g filter="url(#b4)" opacity=".5"><rect x="850" y="1700" width="26" height="120" fill="#f1f1ef"/></g>

</g>

</g>
</svg></body></html>
